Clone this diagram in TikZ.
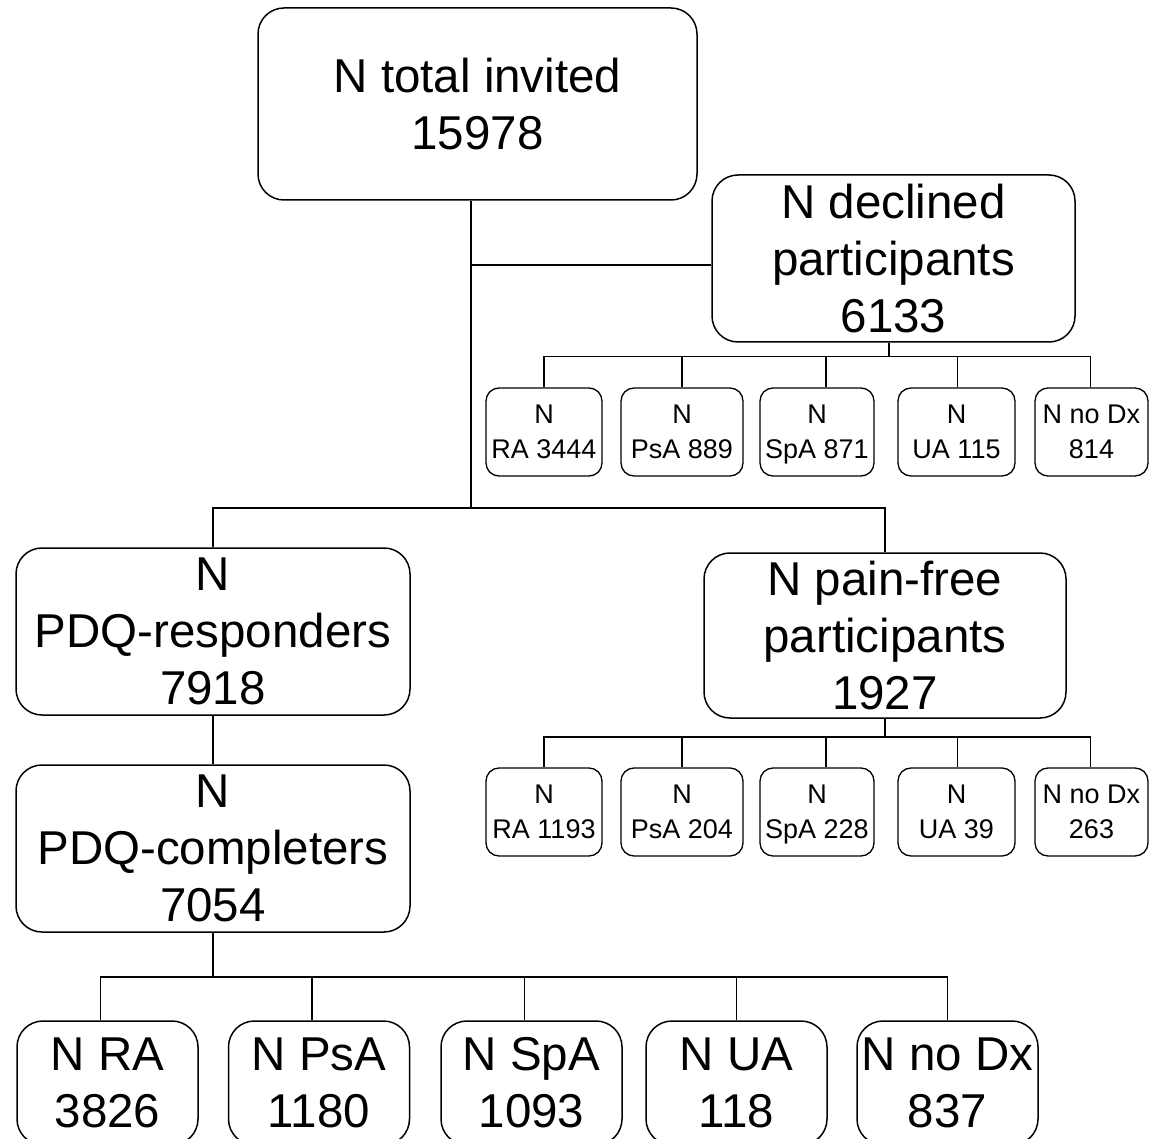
\documentclass[tikz,border=0pt]{standalone}
\usepackage{fontspec}
\setmainfont{Liberation Sans}
\usepackage{tikz}

\begin{document}
\begin{tikzpicture}
  [
    x=1pt, y=-1pt,
    big box/.style={draw, line width=1.5pt, rounded corners=26pt, align=center, inner sep=0pt,
      font=\fontsize{47.5}{57}\selectfont},
    small box/.style={draw, line width=1.3pt, rounded corners=13pt, align=center, inner sep=0pt,
      minimum height=88pt, text depth=0pt, font=\fontsize{27}{35}\selectfont},
    link/.style={line width=1.5pt}
  ]
  \clip (0,0) rectangle (1160,1139);

  % main flow
  \node[big box, minimum width=439pt, minimum height=192pt] (total) at (477.5,104) {N total invited\\15978};
  \node[big box, minimum width=363pt, minimum height=167pt] (declined) at (893.5,258.5) {N declined\\participants\\6133};
  \node[big box, minimum width=394pt, minimum height=167pt] (resp) at (213,631.5) {N\\PDQ-responders\\7918};
  \node[big box, minimum width=362pt, minimum height=165pt] (painfree) at (885,635.5) {N pain-free\\participants\\1927};
  \node[big box, minimum width=394pt, minimum height=167pt] (compl) at (213,848.5) {N\\PDQ-completers\\7054};

  \coordinate (split) at (471,508);
  \coordinate (decin) at ([yshift=-6.5pt]declined.west);
  \draw[link] (split |- total.south) -- (split);
  \draw[link] (split |- decin) -- (decin);
  \draw[link] (resp.north) |- (split) -| (painfree.north);
  \draw[link] (resp.south) -- (compl.north);

  % declined by diagnosis
  \foreach \name/\xpos/\bw/\dx/\txt in {decra/544/116/0/{N\\RA 3444}, decpsa/682/122/0/{N\\PsA 889},
      decspa/817/114/9/{N\\SpA 871}, decua/956.5/117/1/{N\\UA 115}, decnodx/1091.5/113/-1/{N no Dx\\814}}
  {
    \node[small box, minimum width=\bw pt] (\name) at (\xpos,432) {\txt};
    \draw[link] ([xshift=-4.5pt]declined.south) -- ++(0,14) -| ([xshift=\dx pt]\name.north);
  }

  % pain-free by diagnosis
  \foreach \name/\xpos/\bw/\dx/\txt in {pfra/544/116/0/{N\\RA 1193}, pfpsa/682/122/0/{N\\PsA 204},
      pfspa/817/114/9/{N\\SpA 228}, pfua/956.5/117/1/{N\\UA 39}, pfnodx/1091.5/113/-1/{N no Dx\\263}}
  {
    \node[small box, minimum width=\bw pt] (\name) at (\xpos,812) {\txt};
    \draw[link] (painfree.south) -- ++(0,18) -| ([xshift=\dx pt]\name.north);
  }

  % completers by diagnosis
  \foreach \name/\xpos/\dx/\txt in {cra/107.5/-7/{N RA\\3826}, cpsa/319/-7/{N PsA\\1180}, cspa/531.5/-7/{N SpA\\1093},
      cua/736.5/0/{N UA\\118}, cnodx/947.5/0/{N no Dx\\837}}
  {
    \node[big box, minimum width=181pt, minimum height=124pt] (\name) at (\xpos,1083) {\txt};
    \draw[link] (compl.south) -- ++(0,44) -| ([xshift=\dx pt]\name.north);
  }
\end{tikzpicture}
\end{document}
